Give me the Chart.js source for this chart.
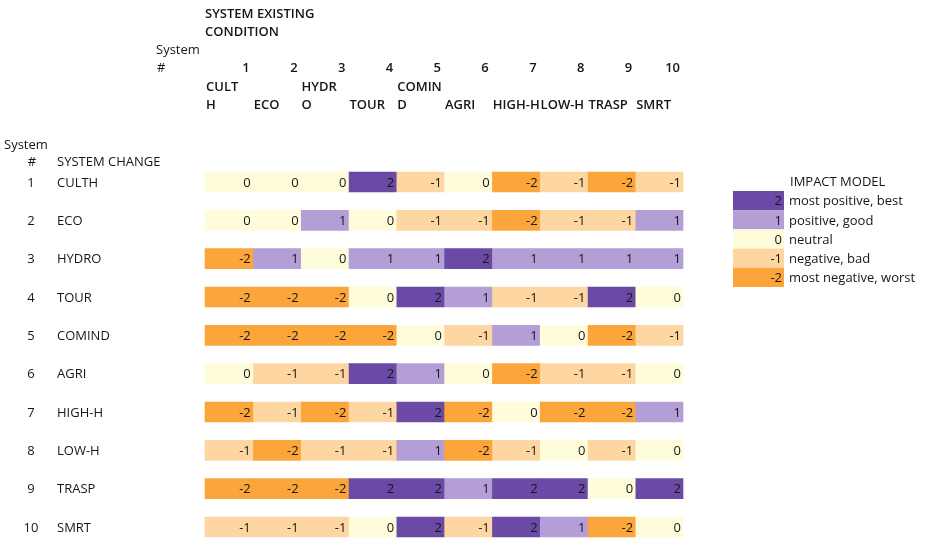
<!DOCTYPE html>
<html>
<head>
<meta charset="utf-8">
<script src="https://cdn.jsdelivr.net/npm/chart.js@4"></script>
<style>
  body { margin: 0; background: #fff; }
  canvas { display: block; }
</style>
</head>
<body>
<canvas id="chart" width="929" height="539"></canvas>
<script>
// Systems (same list for existing condition and system change)
const systemNames = ['CULTH', 'ECO', 'HYDRO', 'TOUR', 'COMIND', 'AGRI', 'HIGH-H', 'LOW-H', 'TRASP', 'SMRT'];
const systemNumbers = ['1', '2', '3', '4', '5', '6', '7', '8', '9', '10'];
// Column headers as they wrap in the sheet
const headerLine1 = ['CULT', '', 'HYDR', '', 'COMIN', '', '', '', '', ''];
const headerLine2 = ['H', 'ECO', 'O', 'TOUR', 'D', 'AGRI', 'HIGH-H', 'LOW-H', 'TRASP', 'SMRT'];

// Impact of each system change (rows) on each existing condition (columns)
const impactCULTH  = [0, 0, 0, 2, -1, 0, -2, -1, -2, -1];
const impactECO    = [0, 0, 1, 0, -1, -1, -2, -1, -1, 1];
const impactHYDRO  = [-2, 1, 0, 1, 1, 2, 1, 1, 1, 1];
const impactTOUR   = [-2, -2, -2, 0, 2, 1, -1, -1, 2, 0];
const impactCOMIND = [-2, -2, -2, -2, 0, -1, 1, 0, -2, -1];
const impactAGRI   = [0, -1, -1, 2, 1, 0, -2, -1, -1, 0];
const impactHIGHH  = [-2, -1, -2, -1, 2, -2, 0, -2, -2, 1];
const impactLOWH   = [-1, -2, -1, -1, 1, -2, -1, 0, -1, 0];
const impactTRASP  = [-2, -2, -2, 2, 2, 1, 2, 2, 0, 2];
const impactSMRT   = [-1, -1, -1, 0, 2, -1, 2, 1, -2, 0];
const impactRows = [impactCULTH, impactECO, impactHYDRO, impactTOUR, impactCOMIND,
                    impactAGRI, impactHIGHH, impactLOWH, impactTRASP, impactSMRT];

// Legend
const legendValues = [2, 1, 0, -1, -2];
const legendLabels = ['most positive, best', 'positive, good', 'neutral', 'negative, bad', 'most negative, worst'];

const impactColors = {
  '2': '#6a4aa5',
  '1': '#b39fd6',
  '0': '#fffcdc',
  '-1': '#fdd6a2',
  '-2': '#fca53a'
};

const FONT = "'Open Sans', sans-serif";
const TEXT = '#161616';

// one dataset per existing-condition column, one floating bar per row
const datasets = systemNames.map((name, c) => ({
  label: name,
  data: impactRows.map((row, r) => ({ x: [c, c + 1], y: r + 1 })),
  backgroundColor: impactRows.map(row => impactColors[String(row[c])]),
  borderWidth: 0,
  borderSkipped: false,
  barThickness: 20,
  grouped: false,
  clip: false
}));

const textPlugin = {
  id: 'matrixText',
  afterDatasetsDraw(chart) {
    const ctx = chart.ctx;
    const xs = chart.scales.x;
    const ys = chart.scales.y;
    ctx.save();
    ctx.fillStyle = TEXT;
    ctx.textBaseline = 'middle';

    // cell values, right aligned like a spreadsheet
    ctx.font = '13px ' + FONT;
    ctx.textAlign = 'right';
    chart.data.datasets.forEach((ds, c) => {
      chart.getDatasetMeta(c).data.forEach((el, r) => {
        ctx.fillText(String(impactRows[r][c]), el.x - 2, el.y + 1);
      });
    });

    // top header
    const left = xs.getPixelForValue(0);
    ctx.textAlign = 'left';
    ctx.font = '600 13px ' + FONT;
    ctx.fillText('SYSTEM EXISTING', left, 14);
    ctx.fillText('CONDITION', left, 32);
    ctx.font = '13px ' + FONT;
    ctx.fillText('System', 156, 50);
    ctx.fillText('#', 157, 68);

    systemNumbers.forEach((n, c) => {
      ctx.font = '600 13px ' + FONT;
      ctx.textAlign = 'right';
      ctx.fillText(n, xs.getPixelForValue(c + 1) - 3, 68);
      ctx.textAlign = 'left';
      const lx = xs.getPixelForValue(c) + 1;
      if (headerLine1[c]) ctx.fillText(headerLine1[c], lx, 87);
      ctx.fillText(headerLine2[c], lx, 105);
    });

    // row header
    ctx.font = '13px ' + FONT;
    ctx.textAlign = 'left';
    ctx.fillText('System', 4, 145);
    ctx.textAlign = 'center';
    ctx.fillText('#', 32, 162);
    ctx.textAlign = 'left';
    ctx.fillText('SYSTEM CHANGE', 57, 162);
    systemNames.forEach((name, r) => {
      const y = ys.getPixelForValue(r + 1) + 1;
      ctx.font = '500 13px ' + FONT;
      ctx.textAlign = 'center';
      ctx.fillText(systemNumbers[r], 31, y);
      ctx.textAlign = 'left';
      ctx.fillText(name, 57, y);
    });

    // legend
    const bx = 733, bw = 51, bh = 19.2, by = 191;
    ctx.font = '13px ' + FONT;
    ctx.textAlign = 'left';
    ctx.fillText('IMPACT MODEL', 790, 182);
    legendValues.forEach((v, i) => {
      const y0 = by + i * bh;
      ctx.fillStyle = impactColors[String(v)];
      ctx.fillRect(bx, y0, bw, bh);
      ctx.fillStyle = TEXT;
      ctx.textAlign = 'right';
      ctx.fillText(String(v), bx + bw - 2, y0 + bh / 2 + 1);
      ctx.textAlign = 'left';
      ctx.fillText(legendLabels[i], bx + bw + 5, y0 + bh / 2 + 1);
    });
    ctx.restore();
  }
};

new Chart(document.getElementById('chart'), {
  type: 'bar',
  data: { datasets },
  options: {
    indexAxis: 'y',
    responsive: false,
    animation: false,
    layout: { padding: { left: 205, right: 246, top: 182, bottom: 12 } },
    scales: {
      x: { type: 'linear', min: 0, max: 10, display: false, offset: false },
      y: { type: 'linear', min: 1, max: 10, reverse: true, display: false, offset: false }
    },
    plugins: {
      legend: { display: false },
      tooltip: { enabled: false }
    }
  },
  plugins: [textPlugin]
});
</script>
</body>
</html>
